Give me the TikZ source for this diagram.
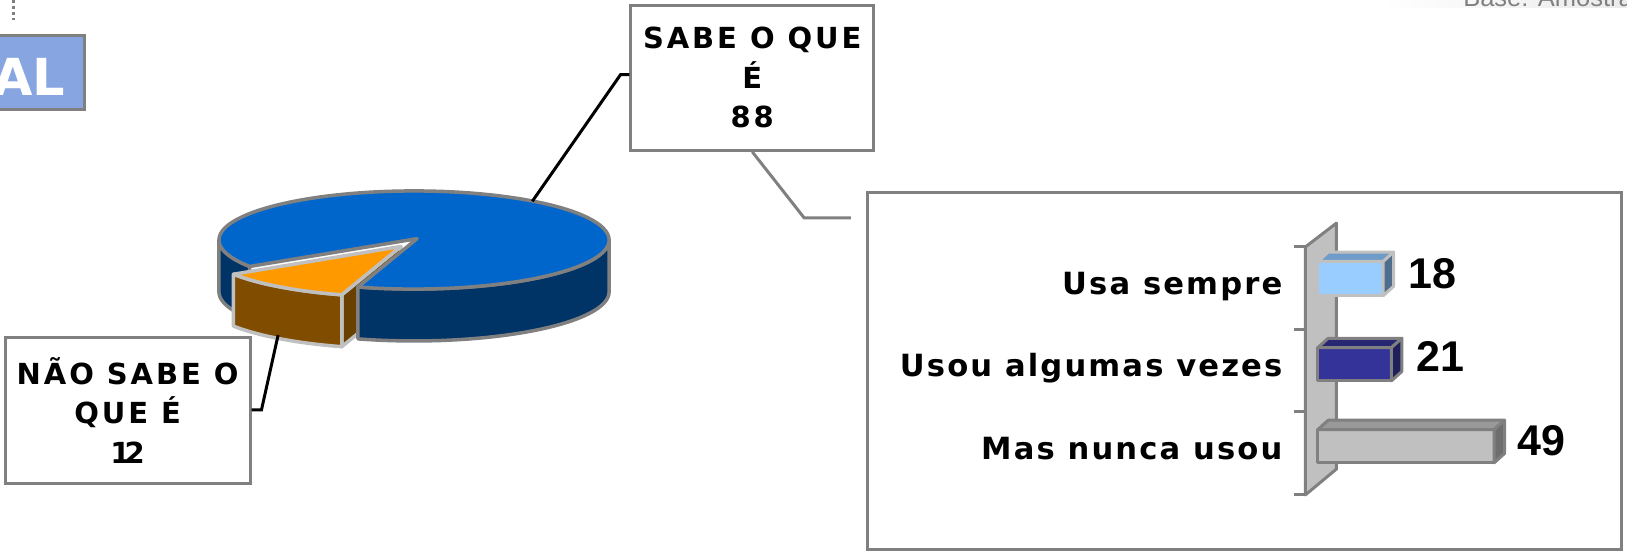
\documentclass[tikz,border=0pt]{standalone}
\usepackage{fontspec}
\setmainfont{DejaVu Sans}
\newfontfamily\labfont[LetterSpace=10]{DejaVu Sans}
\newfontfamily\catfont[LetterSpace=7]{DejaVu Sans}
\newfontfamily\numfont{Liberation Sans}
\usetikzlibrary{calc}
\definecolor{boxgray}{HTML}{808080}
\definecolor{lightgray2}{HTML}{C0C0C0}
\definecolor{pieblue}{HTML}{0066CC}
\definecolor{pienavy}{HTML}{003366}
\definecolor{pieorange}{HTML}{FF9900}
\definecolor{piebrown}{HTML}{7F4C00}
\definecolor{piebrowndark}{HTML}{6A4000}
\definecolor{alblue}{HTML}{87A5E1}
\definecolor{barAfront}{HTML}{99CCFF}
\definecolor{barAtop}{HTML}{6F9BC8}
\definecolor{barAside}{HTML}{4F6D8C}
\definecolor{barBfront}{HTML}{333399}
\definecolor{barBtop}{HTML}{262673}
\definecolor{barBside}{HTML}{1F1F5C}
\definecolor{barCtop}{HTML}{999999}
\definecolor{barCside}{HTML}{6E6E6E}
\newcommand\drawbar[8]{%
  \filldraw[fill=#5,draw=#8,line width=3pt,line join=round] (#1,#2) rectangle (#3,#4);
  \filldraw[fill=#6,draw=#8,line width=3pt,line join=round] (#1,#2) -- ({#1+10},{#2-9}) -- ({#3+10},{#2-9}) -- (#3,#2) -- cycle;
  \filldraw[fill=#7,draw=#8,line width=3pt,line join=round] (#3,#2) -- ({#3+10},{#2-9}) -- ({#3+10},{#4-9}) -- (#3,#4) -- cycle;
}
\begin{document}
\begin{tikzpicture}[x=1.0376pt,y=-1.0376pt,
  lbox/.style={draw=boxgray,line width=3pt,fill=white,align=center,inner sep=0pt,
    font=\labfont\bfseries\fontsize{29}{39.5}\selectfont},
  catlab/.style={font=\catfont\bfseries\fontsize{30.6}{33}\selectfont,anchor=base east,inner sep=0pt},
  val/.style={font=\numfont\bfseries\fontsize{43}{43}\selectfont,anchor=base west,inner sep=0pt},
  leader/.style={line width=3pt,black},
  gleader/.style={line width=3pt,boxgray},
  pieline/.style={line width=3.5pt,draw=boxgray,line join=round},
  wedgeline/.style={line width=3.5pt,draw=lightgray2,line join=round}]
\useasboundingbox (0,0) rectangle (1568,535);
\clip (0,0) rectangle (1568,535);

% top fragments
\draw[boxgray,line width=2.5pt,dash pattern=on 3pt off 3pt] (13,0) -- (13,19);
\shade[left color=white,right color=black!8] (1331,-1) rectangle (1568,7);
\node[font=\numfont\fontsize{25.5}{25.5}\selectfont,text=boxgray,anchor=base west,inner sep=0pt] (base) at (1410,6) {Base: Amostra};

% AL box
\filldraw[fill=alblue,draw=boxgray,line width=3pt] (-10,34) rectangle (81,106);
\node[font=\bfseries\fontsize{51}{51}\selectfont,text=white,anchor=base east,inner sep=0pt] (al) at (63,92) {AL};

% pie
\def\cx{399}\def\cy{231.3}\def\rx{188}\def\ry{47.3}\def\dep{50}
\def\tl{147.4}\def\tf{106.7}\def\ox{-15.6}\def\oy{7.5}
\coordinate (apex) at (402,230);
\coordinate (apexo) at ($(apex)+(\ox,\oy)$);
% wedge cut face (behind)
\filldraw[fill=piebrowndark,wedgeline] ({\cx+\ox+\rx*cos(\tf)},{\cy+\oy+\ry*sin(\tf)}) -- (apexo) -- ($(apexo)+(0,\dep)$) -- ({\cx+\ox+\rx*cos(\tf)},{\cy+\oy+\dep+\ry*sin(\tf)}) -- cycle;
% blue left side
\filldraw[fill=pienavy,pieline] plot[domain=\tl:180,samples=20,variable=\t] ({\cx+\rx*cos(\t)},{\cy+\ry*sin(\t)})
  -- plot[domain=180:\tl,samples=20,variable=\t] ({\cx+\rx*cos(\t)},{\cy+\dep+\ry*sin(\t)}) -- cycle;
% blue right side
\filldraw[fill=pienavy,pieline] plot[domain=0:\tf,samples=40,variable=\t] ({\cx+\rx*cos(\t)},{\cy+\ry*sin(\t)})
  -- plot[domain=\tf:0,samples=40,variable=\t] ({\cx+\rx*cos(\t)},{\cy+\dep+\ry*sin(\t)}) -- cycle;
% blue top
\filldraw[fill=pieblue,pieline] plot[domain=\tl:466.7,samples=120,variable=\t] ({\cx+\rx*cos(\t)},{\cy+\ry*sin(\t)}) -- (apex) -- cycle;
% wedge front side
\filldraw[fill=piebrown,wedgeline] plot[domain=\tl:\tf,samples=30,variable=\t] ({\cx+\ox+\rx*cos(\t)},{\cy+\oy+\ry*sin(\t)})
  -- plot[domain=\tf:\tl,samples=30,variable=\t] ({\cx+\ox+\rx*cos(\t)},{\cy+\oy+\dep+\ry*sin(\t)}) -- cycle;
% wedge top
\filldraw[fill=pieorange,wedgeline] plot[domain=\tl:\tf,samples=30,variable=\t] ({\cx+\ox+\rx*cos(\t)},{\cy+\oy+\ry*sin(\t)}) -- (apexo) -- cycle;

% label boxes
\coordinate (pieTop) at (513,194);
\coordinate (k1) at (598,72);
\coordinate (pieFront) at (268,323);
\coordinate (k2) at (252,395);
\coordinate (k3) at (775,210);
\coordinate (k4) at (820,210);
\node[lbox,minimum width=243pt,minimum height=145pt] (sabe) at (725,75) {SABE O QUE\\É\\88};
\node[lbox,minimum width=245pt,minimum height=146pt] (nao) at (123,395.5) {NÃO SABE O\\QUE É\\1\kern-6pt 2};
\draw[leader] (pieTop) -- (k1) -- (k1 -| sabe.west);
\draw[leader] (pieFront) -- (k2) -- (k2 -| nao.east);
\draw[gleader] (sabe.south) -- (k3) -- (k4);

% bar chart
\node[draw=boxgray,line width=3pt,minimum width=754pt,minimum height=357pt,inner sep=0pt] (chart) at (1199.5,358) {};
\filldraw[fill=lightgray2,draw=boxgray,line width=3pt,line join=round] (1258,238) -- (1288,215) -- (1288,452) -- (1258,477) -- cycle;
\foreach \yy in {238,318,397,477} \draw[boxgray,line width=3pt] (1247,\yy) -- (1258,\yy);
\drawbar{1270}{252}{1333}{285}{barAfront}{barAtop}{barAside}{lightgray2}
\drawbar{1270}{335}{1341}{367}{barBfront}{barBtop}{barBside}{boxgray}
\drawbar{1270}{414}{1440}{446}{lightgray2}{barCtop}{barCside}{boxgray}
\node[catlab] (c1) at (1236,284) {Usa sempre};
\node[catlab] (c2) at (1236,363) {Usou algumas vezes};
\node[catlab] (c3) at (1236,443) {Mas nunca usou};
\node[val] (v1) at (1357,278) {18};
\node[val] (v2) at (1365,358) {21};
\node[val] (v3) at (1462,439) {49};
\end{tikzpicture}
\end{document}
